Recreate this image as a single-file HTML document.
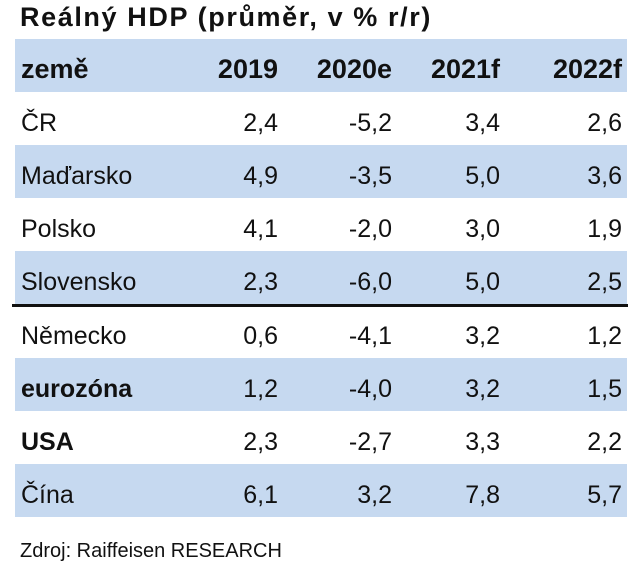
<!DOCTYPE html>
<html><head><meta charset="utf-8"><style>
body{margin:0;width:640px;height:573px;background:#fff;font-family:"Liberation Sans",sans-serif;color:#111;position:relative;overflow:hidden}
.t{position:absolute;left:20px;top:2px;font-size:27px;font-weight:bold;letter-spacing:1.6px}
.row{position:absolute;left:15px;width:612px;height:53px}
.blue{background:#c6d9f0}
.c{position:absolute;top:5px;line-height:53px;font-size:25px;white-space:nowrap}
.n{left:6px}
.v{text-align:right;width:100px}
.h .c{font-weight:bold;font-size:27px;top:4px}
.line{position:absolute;left:12px;width:616px;top:304px;height:3px;background:#111}
.src{position:absolute;left:20px;top:540px;font-size:20px}
</style></head><body>
<div class="t">Reálný HDP (průměr, v % r/r)</div>
<div id="tbl"></div>
<div class="line"></div>
<div class="src">Zdroj: Raiffeisen RESEARCH</div>
<script>
const headers=["země","2019","2020e","2021f","2022f"];
const countries=["ČR","Maďarsko","Polsko","Slovensko","Německo","eurozóna","USA","Čína"];
const v2019=["2,4","4,9","4,1","2,3","0,6","1,2","2,3","6,1"];
const v2020=["-5,2","-3,5","-2,0","-6,0","-4,1","-4,0","-2,7","3,2"];
const v2021=["3,4","5,0","3,0","5,0","3,2","3,2","3,3","7,8"];
const v2022=["2,6","3,6","1,9","2,5","1,2","1,5","2,2","5,7"];
const boldRows=["eurozóna","USA"];
const rights=[263,377,485,607];
const tops=[39,92,145,198,251,305,358,411,464];
const tbl=document.getElementById('tbl');
function mkRow(top,cells,cls,bold){
  const r=document.createElement('div');
  r.className='row '+cls;
  r.style.top=top+'px';
  
  
  cells.forEach((t,i)=>{
    const c=document.createElement('div');
    c.textContent=t;
    if(i===0){c.className='c n';if(bold){c.style.fontWeight='bold';c.style.fontSize='25px';}}
    else{c.className='c v';c.style.left=(rights[i-1]-100)+'px';}
    
    
    r.appendChild(c);
  });
  tbl.appendChild(r);
}
mkRow(tops[0],headers,'blue h',false);
countries.forEach((n,i)=>{
  mkRow(tops[i+1],[n,v2019[i],v2020[i],v2021[i],v2022[i]],(i%2===1)?'blue':'',boldRows.includes(n));
});
</script>
</body></html>
